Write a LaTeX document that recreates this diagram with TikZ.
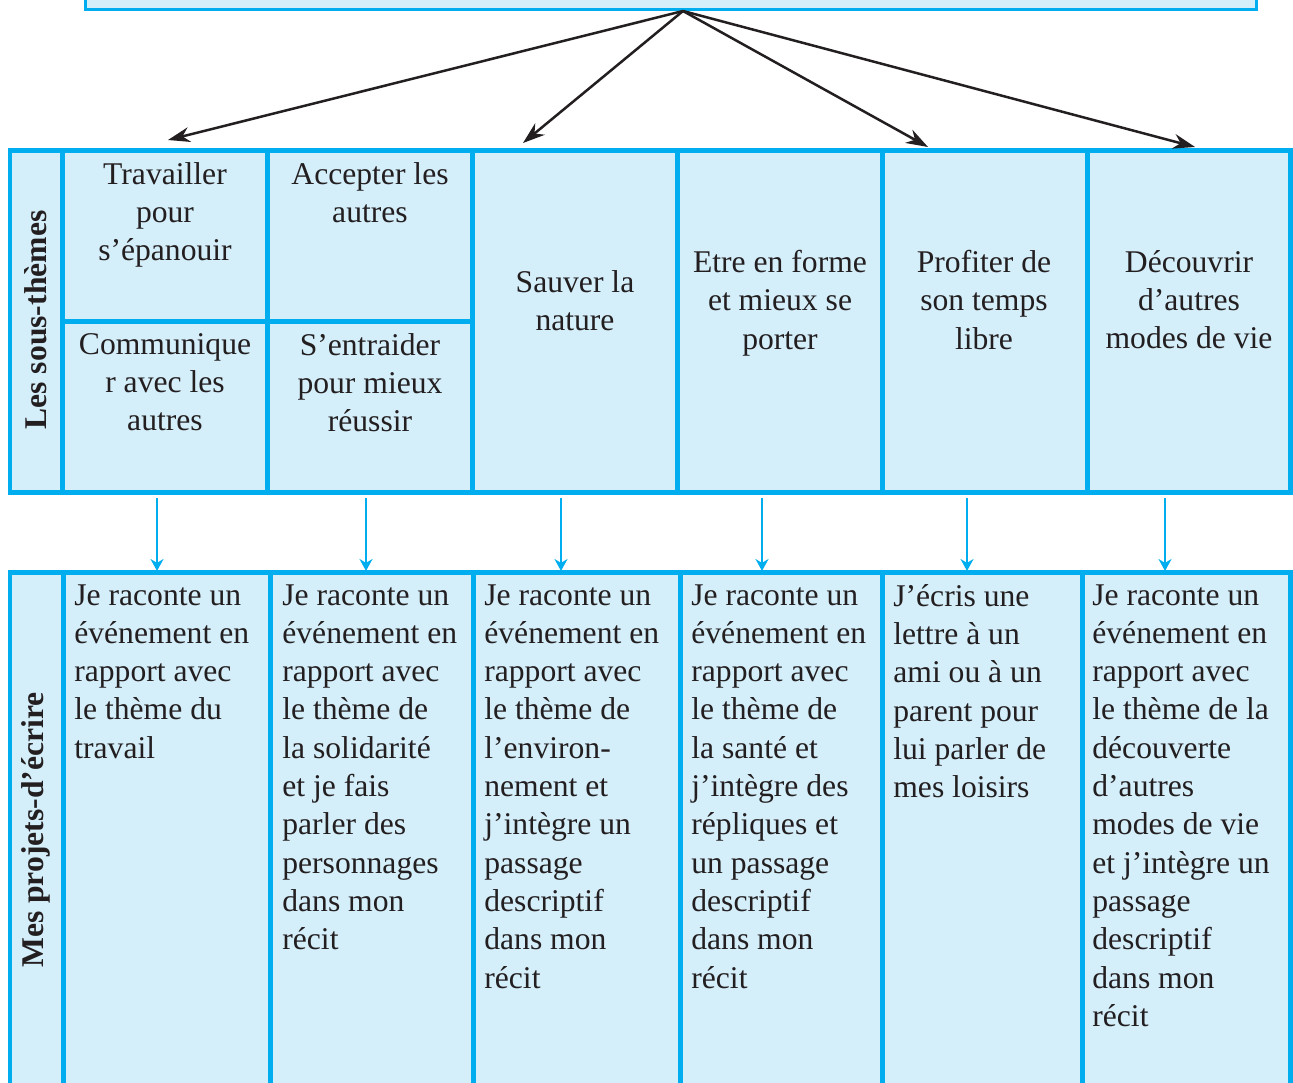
\documentclass[tikz,border=0pt]{standalone}
\usepackage{fontspec}
\setmainfont{Liberation Serif}
\usetikzlibrary{arrows.meta}
\definecolor{cadre}{RGB}{0,174,239}
\definecolor{fond}{RGB}{212,238,250}
\definecolor{encre}{RGB}{35,31,32}
\tikzset{
  trait/.style={draw=cadre,line width=0.1cm},
  titre/.style={font=\fontsize{18}{21.8}\selectfont\bfseries,text=encre,rotate=90,inner sep=0pt},
  soustheme/.style={font=\fontsize{18}{21.8}\selectfont,text=encre,align=center,anchor=north,inner sep=0pt,execute at begin node=\strut},
  projet/.style={font=\fontsize{18}{21.8}\selectfont,text=encre,align=left,anchor=north west,inner sep=0pt,execute at begin node=\strut},
  fleche/.style={-{Stealth[length=0.44cm,width=0.3cm]},line width=0.05cm,draw=encre},
  flechebleue/.style={-{Stealth[length=0.24cm,width=0.26cm]},line width=0.045cm,draw=cadre},
}
\begin{document}
\begin{tikzpicture}[x=0.02cm,y=-0.02cm]
		\clip (0,0) rectangle (1293,1082);
		\node[draw=cadre,fill=fond,line width=0.06cm,minimum width=23.44cm,minimum height=1.2cm,inner sep=0pt] (theme) at (671,-20) {};
		\coordinate (source) at (683,11);
		\draw[trait,fill=fond] (10,150) rectangle (1290,492);
		\foreach \x in {62,267,472,677,882,1087} \draw[trait] (\x,150) -- (\x,492);
		\draw[trait] (62,321) -- (472,321);
		\draw[trait,fill=fond] (10,572) rectangle (1290,1130);
		\foreach \x in {63,270,473,680,882,1082} \draw[trait] (\x,572) -- (\x,1130);
		\foreach \x/\y [count=\i] in {168/140,523/143,928/147,1195/147}
			{\coordinate (cible\i) at (\x,\y); \draw[fleche] (source) -- (cible\i);}
		\foreach \x [count=\i] in {157,366,561,762,967,1165}
			{\coordinate (haut\i) at (\x,498); \coordinate (bas\i) at (\x,571); \draw[flechebleue] (haut\i) -- (bas\i);}
		\node[titre] (soustitre) at (36,320) {Les sous-thèmes};
		\node[titre] (projtitre) at (36,830) {Mes projets-d’écrire};
		\node[soustheme] (travail) at (165,162) {Travailler\\pour\\s’épanouir};
		\node[soustheme] (communique) at (165,333) {Communique\\r avec les\\autres};
		\node[soustheme] (accepter) at (370,162) {Accepter les\\autres};
		\node[soustheme] (entraider) at (370,333) {S’entraider\\pour mieux\\réussir};
		\node[soustheme] (nature) at (575,270) {Sauver la\\nature};
		\node[soustheme] (forme) at (780,250) {Etre en forme\\et mieux se\\porter};
		\node[soustheme] (loisir) at (984,250) {Profiter de\\son temps\\libre};
		\node[soustheme] (decouvrir) at (1189,250) {Découvrir\\d’autres\\modes de vie};
		\node[projet] (projet1) at (74,584) {Je raconte un\\événement en\\rapport avec\\le thème du\\travail};
		\node[projet] (projet2) at (282,584) {Je raconte un\\événement en\\rapport avec\\le thème de\\la solidarité\\et je fais\\parler des\\personnages\\dans mon\\récit};
		\node[projet] (projet3) at (484,584) {Je raconte un\\événement en\\rapport avec\\le thème de\\l’environ-\\nement et\\j’intègre un\\passage\\descriptif\\dans mon\\récit};
		\node[projet] (projet4) at (691,584) {Je raconte un\\événement en\\rapport avec\\le thème de\\la santé et\\j’intègre des\\répliques et\\un passage\\descriptif\\dans mon\\récit};
		\node[projet] (projet5) at (893,584) {J’écris une\\lettre à un\\ami ou à un\\parent pour\\lui parler de\\mes loisirs};
		\node[projet] (projet6) at (1092,584) {Je raconte un\\événement en\\rapport avec\\le thème de la\\découverte\\d’autres\\modes de vie\\et j’intègre un\\passage\\descriptif\\dans mon\\récit};
		\end{tikzpicture}
\end{document}
